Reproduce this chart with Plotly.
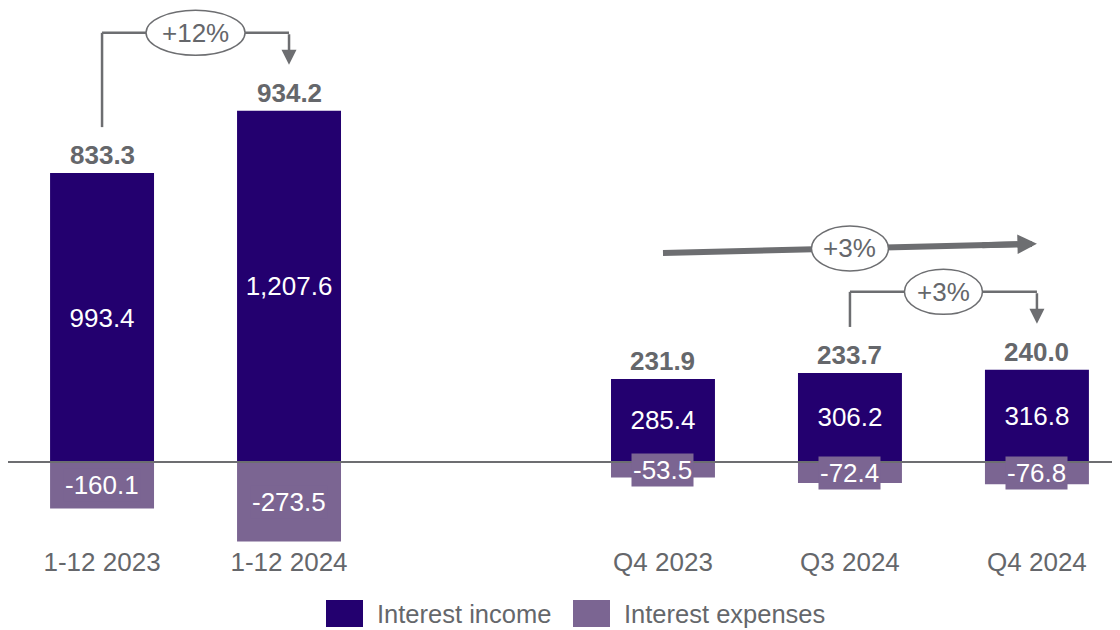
import plotly.graph_objects as go

# data
categories = ["1-12 2023", "1-12 2024", " ", "Q4 2023", "Q3 2024", "Q4 2024"]
interest_income = [993.4, 1207.6, None, 285.4, 306.2, 316.8]
interest_expenses = [-160.1, -273.5, None, -53.5, -72.4, -76.8]
net_interest = [833.3, 934.2, None, 231.9, 233.7, 240.0]

# growth brackets: (from, to, label)
brackets = [("1-12 2023", "1-12 2024", "+12%"), ("Q3 2024", "Q4 2024", "+3%")]
trend = ("Q4 2023", "Q4 2024", "+3%")

INCOME = "#23006F"
EXPENSE = "#7B6592"
GREY = "#65676B"
LINE = "#6D6E71"
FONT = "Liberation Sans, Arial, sans-serif"

W, H = 1120, 630
MB = 94
PLOT_H = H - MB
Y_MIN, Y_MAX = -282.0, 1561.2


def px(n):
    # pixels -> y data units
    return n * (Y_MAX - Y_MIN) / PLOT_H


def idx(c):
    return categories.index(c)


fig = go.Figure()
fig.add_trace(go.Bar(name="Interest income", x=categories, y=interest_income,
                     marker=dict(color=INCOME, line_width=0), width=0.556,
                     texttemplate="%{y:,.1f}", textposition="inside",
                     insidetextanchor="middle", constraintext="none",
                     textfont=dict(color="white", size=26, family=FONT)))
fig.add_trace(go.Bar(name="Interest expenses", x=categories, y=interest_expenses,
                     marker=dict(color=EXPENSE, line_width=0), width=0.556,
                     hoverinfo="x+y"))

shapes = []
annotations = []

# zero line
shapes.append(dict(type="line", xref="paper", yref="y", x0=0, x1=1.02, y0=0, y1=0,
                   line=dict(color=LINE, width=2), layer="above"))

for i, c in enumerate(categories):
    if interest_income[i] is None:
        continue
    v = interest_expenses[i]
    annotations.append(dict(x=i, y=v / 2, xref="x", yref="y", text=f"{v:.1f}",
                            showarrow=False, bgcolor=EXPENSE, borderpad=1,
                            font=dict(color="white", size=26, family=FONT)))
    annotations.append(dict(x=i, y=interest_income[i], xref="x", yref="y",
                            text=f"<b>{net_interest[i]:.1f}</b>", showarrow=False,
                            yanchor="bottom", yshift=1,
                            font=dict(color=GREY, size=26, family=FONT)))


def ellipse(xc, yc, w, h, label):
    shapes.append(dict(type="circle", xref="x", yref="y", xsizemode="pixel", ysizemode="pixel",
                       xanchor=xc, yanchor=yc, x0=-w / 2, x1=w / 2, y0=-h / 2, y1=h / 2,
                       fillcolor="white", line=dict(color=LINE, width=1.5), layer="above"))
    annotations.append(dict(x=xc, y=yc, xref="x", yref="y", text=label, showarrow=False,
                            font=dict(color=GREY, size=26, family=FONT)))


for a, b, label in brackets:
    ia, ib = idx(a), idx(b)
    ya = interest_income[ia] + px(46)
    yb = interest_income[ib] + px(46)
    ytop = max(interest_income[ia], interest_income[ib]) + px(78)
    shapes.append(dict(type="line", xref="x", yref="y", x0=ia, x1=ia, y0=ya, y1=ytop,
                       line=dict(color=LINE, width=2.5), layer="above"))
    shapes.append(dict(type="line", xref="x", yref="y", x0=ia, x1=ib, y0=ytop, y1=ytop,
                       line=dict(color=LINE, width=2.5), layer="above"))
    annotations.append(dict(x=ib, y=yb, ax=ib, ay=ytop, xref="x", yref="y", axref="x", ayref="y",
                            text="", showarrow=True, arrowhead=2, arrowsize=1.2, arrowwidth=2.5,
                            arrowcolor=LINE, standoff=0))
    ellipse((ia + ib) / 2, ytop, 99 if len(label) > 3 else 78, 45, label)

# trend arrow
ia, ib = idx(trend[0]), idx(trend[1])
y0 = interest_income[ia] + px(126)
y1 = interest_income[ib] + px(126)
shapes.append(dict(type="line", xref="x", yref="y", x0=ia, y0=y0,
                   x1=ia + 0.95 * (ib - ia), y1=y0 + 0.95 * (y1 - y0),
                   line=dict(color=LINE, width=6), layer="above"))
annotations.append(dict(x=ib, y=y1, ax=ia + 0.85 * (ib - ia), ay=y0 + 0.85 * (y1 - y0),
                        xref="x", yref="y", axref="x", ayref="y", text="", showarrow=True,
                        arrowhead=2, arrowsize=0.65, arrowwidth=6, arrowcolor=LINE, standoff=0))
ellipse((ia + ib) / 2, (y0 + y1) / 2, 77, 45, trend[2])

# legend drawn by hand (large swatches)
legend_items = [("Interest income", INCOME, 318), ("Interest expenses", EXPENSE, 565)]
for name, color, x in legend_items:
    shapes.append(dict(type="rect", xref="paper", yref="paper",
                       x0=x / W, x1=(x + 37) / W,
                       y0=(PLOT_H - 619) / PLOT_H, y1=(PLOT_H - 592) / PLOT_H,
                       fillcolor=color, line_width=0))
    annotations.append(dict(x=(x + 49) / W, y=(PLOT_H - 606) / PLOT_H, xref="paper", yref="paper",
                            xanchor="left", yanchor="middle", text=name, showarrow=False,
                            font=dict(color=GREY, size=25.5, family=FONT)))

fig.update_layout(
    barmode="relative", width=W, height=H, autosize=False,
    margin=dict(l=0, r=0, t=0, b=MB),
    plot_bgcolor="white", paper_bgcolor="white",
    showlegend=False, shapes=shapes, annotations=annotations,
    font=dict(family=FONT, color=GREY),
    xaxis=dict(type="category", categoryorder="array", categoryarray=categories,
               range=[-0.503, 5.487], showgrid=False, zeroline=False, showline=False,
               ticks="", tickfont=dict(size=26, color=GREY, family=FONT)),
    yaxis=dict(range=[Y_MIN, Y_MAX], visible=False),
)

fig.write_html("out.html")
